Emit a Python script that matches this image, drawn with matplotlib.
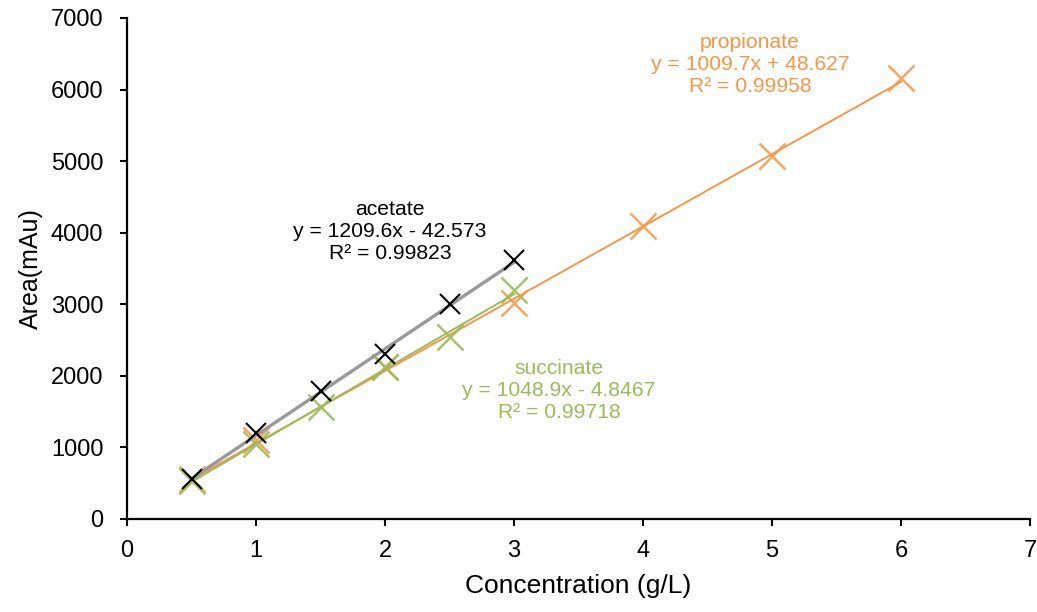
import numpy as np
import matplotlib
matplotlib.use("Agg")
import matplotlib.pyplot as plt

plt.rcParams['font.family'] = ['Liberation Sans', 'DejaVu Sans']

# calibration standards (g/L) and measured peak areas (mAu)
acetate_x = [0.5, 1, 1.5, 2, 2.5, 3]
acetate_y = [555, 1197, 1793, 2301, 3000, 3619]

succinate_x = [0.5, 1, 1.5, 2, 2.5, 3]
succinate_y = [535, 1048, 1569, 2128, 2548, 3200]

propionate_x = [0.5, 1, 2, 3, 4, 5, 6]
propionate_y = [553, 1104, 2120, 3014, 4096, 5074, 6155]

# linear fits reported for each acid: (slope, intercept, r2)
acetate_fit = (1209.6, -42.573, 0.99823)
succinate_fit = (1048.9, -4.8467, 0.99718)
propionate_fit = (1009.7, 48.627, 0.99958)

x_ticks = [0, 1, 2, 3, 4, 5, 6, 7]
y_ticks = [0, 1000, 2000, 3000, 4000, 5000, 6000, 7000]

orange = '#F79646'
green = '#9BBB59'

fig = plt.figure(figsize=(10.37, 6.12), dpi=100)
ax = fig.add_axes([0.1225, 0.152, 0.8707, 0.8186])


def fit_line(xs, fit):
    xx = np.array([min(xs), max(xs)])
    return xx, fit[0] * xx + fit[1]


def eq_text(fit):
    sign = '+' if fit[1] >= 0 else '-'
    return 'y = %gx %s %g\nR² = %g' % (fit[0], sign, abs(fit[1]), fit[2])


# propionate
ax.plot(propionate_x, propionate_y, 'x', color=orange, ms=19, mew=1.8,
        alpha=0.85, clip_on=False, zorder=3)
lx, ly = fit_line(propionate_x, propionate_fit)
ax.plot(lx, ly, color=orange, lw=1.4, zorder=4)

# succinate
ax.plot(succinate_x, succinate_y, 'x', color=green, ms=19, mew=1.8,
        alpha=0.9, clip_on=False, zorder=5)
lx, ly = fit_line(succinate_x, succinate_fit)
ax.plot(lx, ly, color=green, lw=1.4, zorder=6)

# acetate
lx, ly = fit_line(acetate_x, acetate_fit)
ax.plot(lx, ly, color='#999999', lw=2.4, zorder=7)
ax.plot(acetate_x, acetate_y, 'x', color='black', ms=15, mew=1.5,
        clip_on=False, zorder=8)

txt = dict(ha='center', va='top', fontsize=15.2, linespacing=1.2)
ax.text(2.04, 4455, 'acetate\n' + eq_text(acetate_fit), color='black', **txt)
ax.text(4.83, 6790, 'propionate\n' + eq_text(propionate_fit), color=orange,
        **txt)
ax.text(3.35, 2240, 'succinate\n' + eq_text(succinate_fit), color=green, **txt)

ax.set_xlim(0, 7)
ax.set_ylim(0, 7000)
ax.set_xticks(x_ticks)
ax.set_yticks(y_ticks)
ax.tick_params(labelsize=17, length=5, width=1.5, direction='out')
ax.tick_params(axis='x', pad=10)
ax.tick_params(axis='y', pad=12)
for side in ['top', 'right']:
    ax.spines[side].set_visible(False)
for side in ['left', 'bottom']:
    ax.spines[side].set_linewidth(1.6)

ax.set_xlabel('Concentration (g/L)', fontsize=19, labelpad=9)
ax.set_ylabel('Area(mAu)', fontsize=18, labelpad=6)

fig.savefig('out.png', dpi=100)
